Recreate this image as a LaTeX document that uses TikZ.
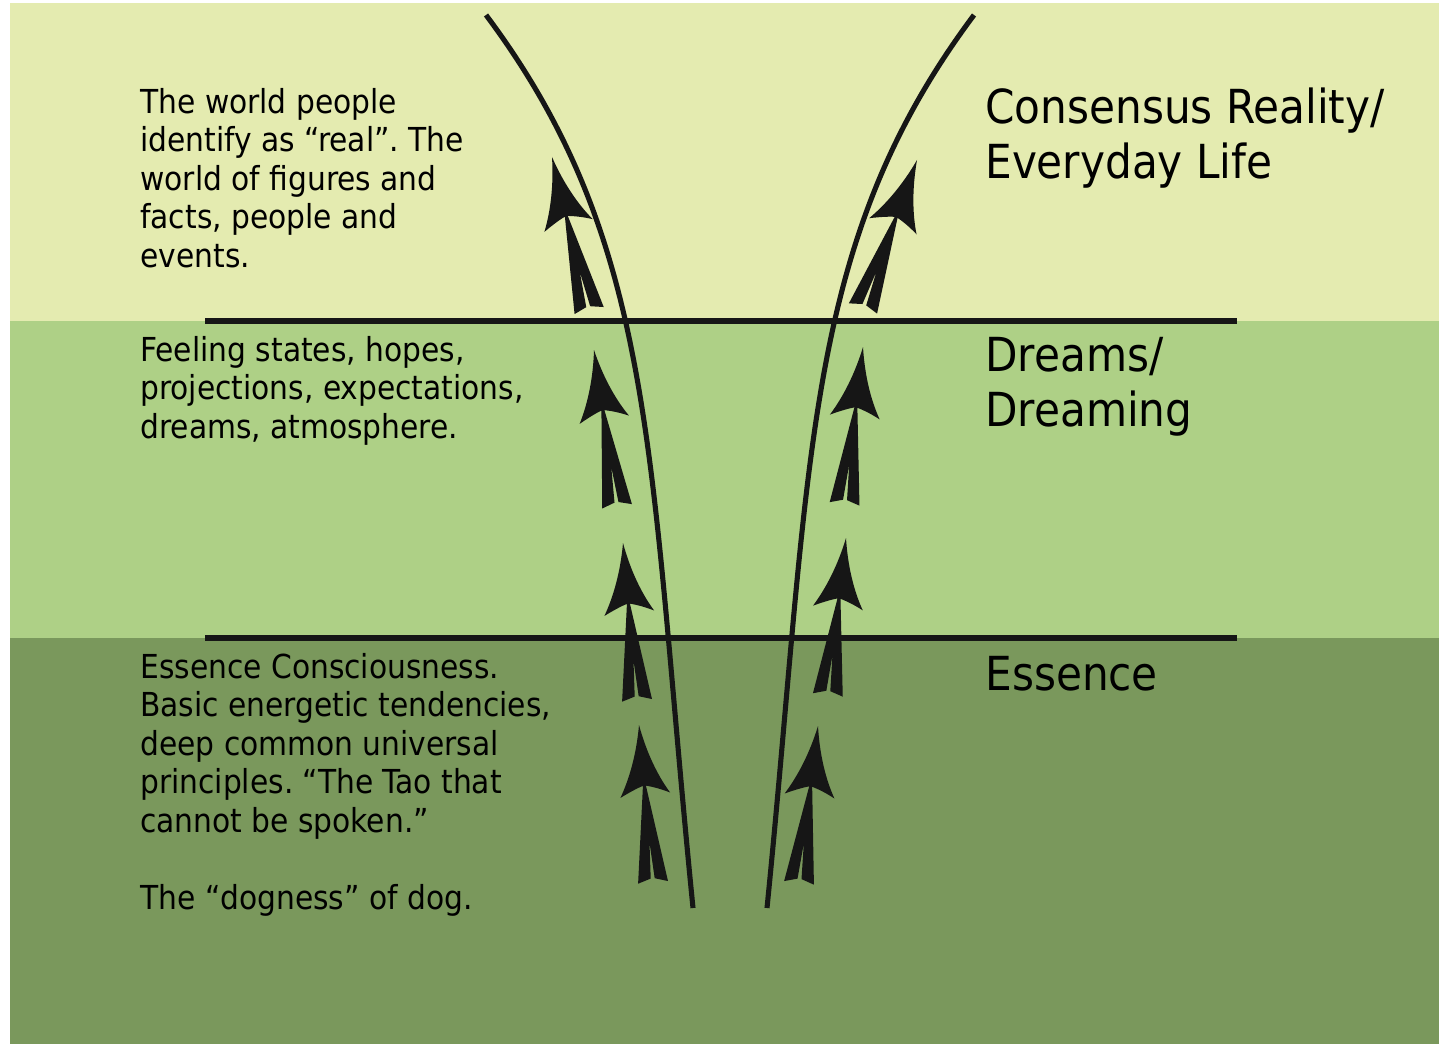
\documentclass[tikz,border=0pt]{standalone}
\usepackage{fontspec}
\setmainfont{DejaVu Sans Condensed}
\usepackage{xcolor}
\usepackage{tikz}
\definecolor{lyrTop}{HTML}{E4EBB0}
\definecolor{lyrMid}{HTML}{AED086}
\definecolor{lyrLow}{HTML}{7A985C}
\definecolor{lyrInk}{HTML}{161616}
\frenchspacing
\tikzset{
  lyrtext/.style={anchor=north west,align=left,inner sep=0pt,
                  font=\fontsize{18.8}{21.9}\selectfont},
  lyrlabel/.style={anchor=north west,align=left,inner sep=0pt,
                   font=\fontsize{26.7}{31.3}\selectfont},
  lyrline/.style={line width=2.9pt,lyrInk},
  pics/lyrarrow/.style={code={
    \fill[lyrInk] (0,0) .. controls (-5,28) and (-14,52) .. (-25,71)
      .. controls (-13,65) and (-5,62) .. (-1.5,61)
      -- (-15,158) -- (-2,154) -- (0,118) -- (2,154) -- (15,158) -- (1.5,61)
      .. controls (5,62) and (13,64) .. (25,70)
      .. controls (14,52) and (5,28) .. (0,0) -- cycle;
  }}
}
\begin{document}
\begin{tikzpicture}[x=0.02cm,y=-0.02cm]
    \useasboundingbox (0,0) rectangle (1439,1044);
    % the three layers
    \fill[lyrTop] (10,3) rectangle (1439,321);
    \fill[lyrMid] (10,321) rectangle (1439,638);
    \fill[lyrLow] (10,638) rectangle (1439,1044);

    \coordinate (div1w) at (205,321);
    \coordinate (div1e) at (1237,321);
    \coordinate (div2w) at (205,638);
    \coordinate (div2e) at (1237,638);
    \draw[lyrline] (div1w) -- (div1e);
    \draw[lyrline] (div2w) -- (div2e);

    % the two stems
    \coordinate (stemLtop) at (486,15);
    \coordinate (stemLbot) at (693,908);
    \coordinate (stemRtop) at (974,15);
    \coordinate (stemRbot) at (767,908);
    \draw[lyrline] (stemLtop) .. controls (658,245) and (648,458) .. (stemLbot);
    \draw[lyrline] (stemRtop) .. controls (802,245) and (812,458) .. (stemRbot);

    % rising arrows
    \pic[rotate=13.6] at (552,157) {lyrarrow};
    \pic[rotate=8.4] at (594,350) {lyrarrow};
    \pic[rotate=5.1] at (623,543) {lyrarrow};
    \pic[rotate=5.1] at (639,725) {lyrarrow};
    \pic[rotate=-20] at (917,160) {lyrarrow};
    \pic[rotate=-6.7] at (863,347) {lyrarrow};
    \pic[rotate=-6.6] at (846,538) {lyrarrow};
    \pic[rotate=-6.9] at (818,726) {lyrarrow};

    % descriptions
    \node[lyrtext] (descTop) at (140,88)
      {The world people\\identify as “real”. The\\world of figures and\\facts, people and\\events.};
    \node[lyrtext] (descMid) at (140,336)
      {Feeling states, hopes,\\projections, expectations,\\dreams, atmosphere.};
    \node[lyrtext] (descLow) at (140,653)
      {Essence Consciousness.\\Basic energetic tendencies,\\deep common universal\\principles. “The Tao that\\cannot be spoken.”\\[21.9pt]The “dogness” of dog.};

    % layer names
    \node[lyrlabel] (nameTop) at (985,88) {Consensus Reality/\\Everyday Life};
    \node[lyrlabel] (nameMid) at (985,337) {Dreams/\\Dreaming};
    \node[lyrlabel] (nameLow) at (985,656) {Essence};
\end{tikzpicture}
\end{document}
